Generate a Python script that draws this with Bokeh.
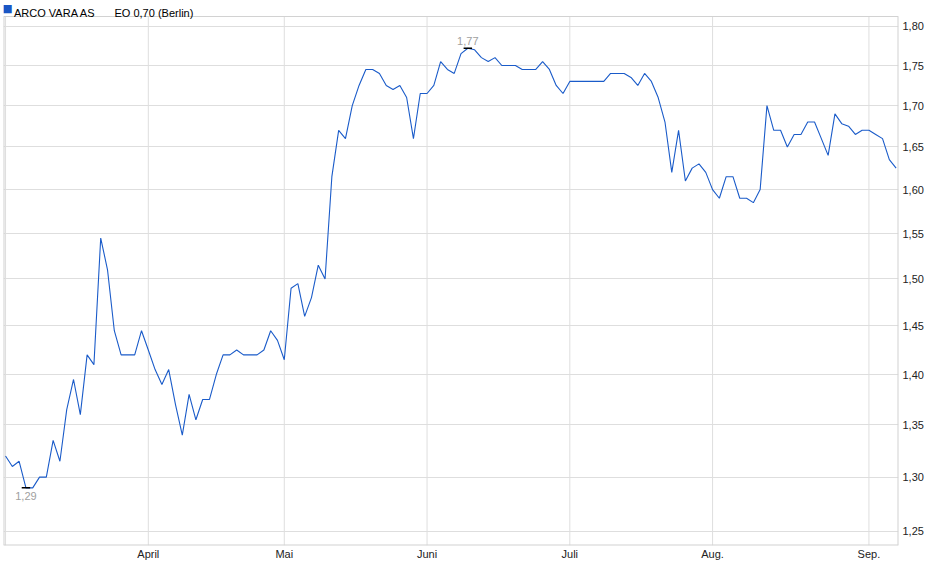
import numpy as np
from bokeh.plotting import figure
from bokeh.models import (ColumnDataSource, FixedTicker, CustomJSTickFormatter,
                          Label, Range1d)
from bokeh.core.properties import value
from bokeh.embed import file_html
from bokeh.resources import INLINE

# closing prices (EUR), one per trading day, March .. early September
price = [
    1.32, 1.31, 1.315, 1.29, 1.29, 1.30, 1.30, 1.335, 1.315, 1.365,
    1.395, 1.36, 1.42, 1.41, 1.545, 1.51, 1.445, 1.42, 1.42, 1.42,
    1.445, 1.425, 1.405, 1.39, 1.405, 1.37, 1.34, 1.38, 1.355, 1.375,
    1.375, 1.40, 1.42, 1.42, 1.425, 1.42, 1.42, 1.42, 1.425, 1.445,
    1.435, 1.415, 1.49, 1.495, 1.46, 1.48, 1.515, 1.50, 1.615, 1.67,
    1.66, 1.70, 1.725, 1.745, 1.745, 1.74, 1.725, 1.72, 1.725, 1.71,
    1.66, 1.715, 1.715, 1.725, 1.755, 1.745, 1.74, 1.765, 1.772, 1.77,
    1.76, 1.755, 1.76, 1.75, 1.75, 1.75, 1.745, 1.745, 1.745, 1.755,
    1.745, 1.725, 1.715, 1.73, 1.73, 1.73, 1.73, 1.73, 1.73, 1.74,
    1.74, 1.74, 1.735, 1.725, 1.74, 1.73, 1.71, 1.68, 1.62, 1.67,
    1.61, 1.625, 1.63, 1.62, 1.60, 1.59, 1.615, 1.615, 1.59, 1.59,
    1.585, 1.60, 1.70, 1.67, 1.67, 1.65, 1.665, 1.665, 1.68, 1.68,
    1.66, 1.64, 1.69, 1.678, 1.675, 1.665, 1.67, 1.67, 1.665, 1.66,
    1.635, 1.625,
]
day = list(range(len(price)))

# trading-day index of the first day of each month
month_pos = [0, 21, 41, 62, 83, 104, 127]
month_lbl = ["", "April", "Mai", "Juni", "Juli", "Aug.", "Sep."]
y_ticks = [1.25, 1.30, 1.35, 1.40, 1.45, 1.50, 1.55, 1.60, 1.65, 1.70, 1.75, 1.80]

name = "ARCO VARA AS"
info = "EO 0,70 (Berlin)"

FONT = "Liberation Sans"
GRID = "#dedede"
BORDER = "#d2d2d2"

# price area runs from y_lo to y_top; the frame goes a bit higher so the
# header (square + name) can sit inside it
x_lo, x_hi = -0.3, 131.35
y_lo, y_top = 1.2374, 1.813
y_head = 1.8341

p = figure(
    width=936, height=575,
    x_range=Range1d(x_lo, x_hi), y_range=Range1d(y_lo, y_head),
    y_axis_type="log", y_axis_location="right",
    output_backend="svg", toolbar_location=None,
    min_border_left=3, min_border_right=38, min_border_top=0, min_border_bottom=30,
)
p.outline_line_color = None

# axes
yt = FixedTicker(ticks=y_ticks)
p.yaxis.ticker = yt
p.ygrid.ticker = yt
p.yaxis.formatter = CustomJSTickFormatter(code="return tick.toFixed(2).replace('.', ',');")
p.xaxis.ticker = FixedTicker(ticks=month_pos)
p.xaxis.major_label_overrides = dict(zip(month_pos, month_lbl))
p.xgrid.visible = False

for ax in (p.xaxis, p.yaxis):
    ax.axis_line_color = None
    ax.major_tick_line_color = None
    ax.minor_tick_line_color = None
    ax.major_tick_out = 0
    ax.major_tick_in = 0
    ax.major_label_text_font = FONT
    ax.major_label_text_font_size = "11px"
    ax.major_label_text_color = "#222222"
p.yaxis.major_label_standoff = 4
p.xaxis.major_label_standoff = 2

p.ygrid.grid_line_color = GRID
p.ygrid.minor_grid_line_color = None

# month grid lines, only over the price area
p.segment(x0=month_pos, x1=month_pos, y0=y_lo, y1=y_top,
          line_color=GRID, line_width=1)

# border of the price area (edges sit on the frame, so 2px -> 1px visible)
p.segment(x0=[x_lo, x_hi, x_lo], x1=[x_lo, x_hi, x_hi],
          y0=[y_lo, y_lo, y_lo], y1=[y_top, y_top, y_lo],
          line_color=BORDER, line_width=2)
p.segment(x0=[x_lo], x1=[x_hi], y0=[y_top], y1=[y_top],
          line_color=BORDER, line_width=1)

# price line
src = ColumnDataSource(data=dict(day=day, price=price))
p.line("day", "price", source=src, line_color="#1a5bc9", line_width=1.1)

# high / low markers
imax = int(np.argmax(price))
imin = int(np.argmin(price))
hi, lo = price[imax], price[imin]
p.segment(x0=[imax - 0.62, imin - 0.62], x1=[imax + 0.62, imin + 0.62],
          y0=[hi, lo], y1=[hi, lo], line_color="black", line_width=1.5)
p.text(x=[imax], y=[hi], text=[f"{hi:.2f}".replace(".", ",")],
       text_align="center", text_baseline="bottom", y_offset=-3,
       text_font=value(FONT), text_font_size="11px", text_color="#a0a0a0")
p.text(x=[imin], y=[lo], text=[f"{lo:.2f}".replace(".", ",")],
       text_align="center", text_baseline="top", y_offset=4,
       text_font=value(FONT), text_font_size="11px", text_color="#a0a0a0")

# header: blue square, name, exchange info
p.add_layout(Label(x=x_lo, y=y_top, x_offset=4, y_offset=8.5, text="\u25a0",
                   text_align="center", text_baseline="middle",
                   text_font="DejaVu Sans", text_font_size="11px",
                   text_color="#1a56c4"))
p.add_layout(Label(x=x_lo, y=y_top, x_offset=10.5, y_offset=3.5, text=name,
                   text_baseline="alphabetic", text_font=FONT,
                   text_font_size="11px", text_color="black"))
p.add_layout(Label(x=x_lo, y=y_top, x_offset=111, y_offset=3.5, text=info,
                   text_baseline="alphabetic", text_font=FONT,
                   text_font_size="11px", text_color="black"))

open("out.html", "w").write(file_html(p, INLINE))
